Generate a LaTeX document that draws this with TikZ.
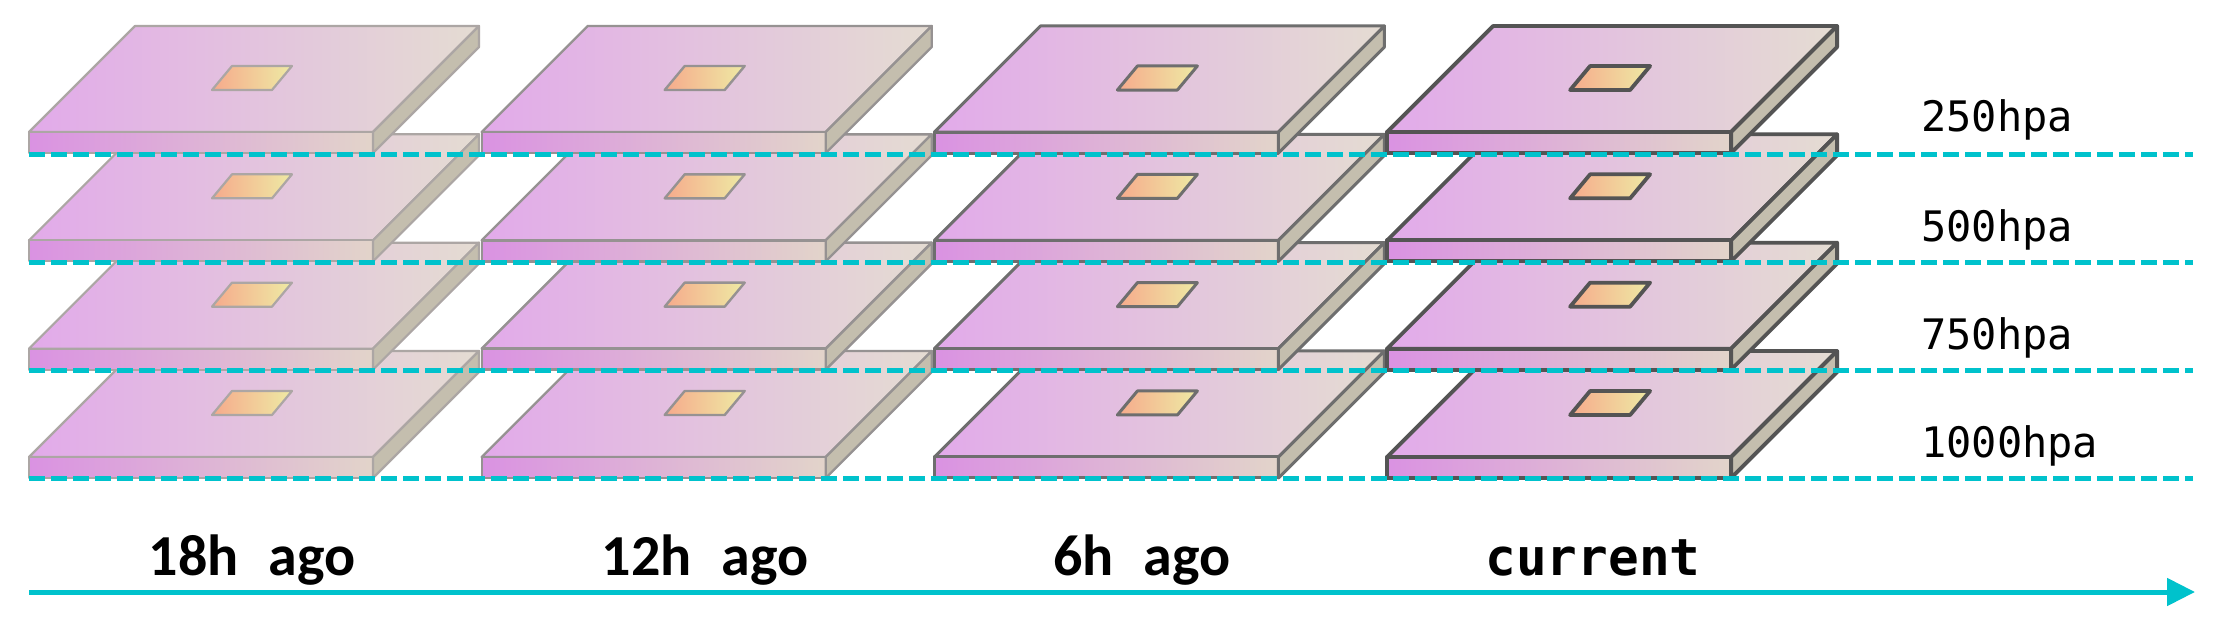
\documentclass[tikz,border=0pt]{standalone}
\usepackage{fontspec}
\newfontfamily\monofont{DejaVu Sans Mono}
\newfontfamily\calfont{Carlito}
\usetikzlibrary{arrows.meta}
\definecolor{cyanline}{RGB}{0,194,204}
\definecolor{pinkL}{RGB}{226,170,234}
\definecolor{beigeR}{RGB}{228,220,210}
\definecolor{frontL}{RGB}{218,146,226}
\definecolor{frontR}{RGB}{226,212,202}
\definecolor{sideC}{RGB}{196,190,174}
\definecolor{rhL}{RGB}{246,170,140}
\definecolor{rhR}{RGB}{238,234,164}
\definecolor{edgeA}{RGB}{172,166,164}
\definecolor{edgeB}{RGB}{150,146,146}
\definecolor{edgeC}{RGB}{110,110,110}
\definecolor{edgeD}{RGB}{84,84,84}
\tikzset{
  edge0/.style={draw=edgeA, line width=2.2pt},
  edge1/.style={draw=edgeB, line width=2.4pt},
  edge2/.style={draw=edgeC, line width=3pt},
  edge3/.style={draw=edgeD, line width=3.8pt},
  levline/.style={cyanline, line width=5pt, dash pattern=on 16pt off 6pt},
  hpalabel/.style={anchor=base west, inner sep=0pt, font=\monofont\fontsize{42}{48}\selectfont},
  timelabel/.style={anchor=base, inner sep=0pt, font=\calfont\bfseries\fontsize{58}{64}\selectfont},
  curlabel/.style={anchor=base, inner sep=0pt, font=\monofont\bfseries\fontsize{51}{58}\selectfont},
}
\newcommand\myslab[3]{%
  \begin{scope}[shift={(#1,#2)}]
    \draw[#3, left color=pinkL, right color=beigeR] (0,0) -- (344,0) -- (450,-106) -- (106,-106) -- cycle;
    \draw[#3, left color=frontL, right color=frontR] (0,0) rectangle (344,21);
    \draw[#3, fill=sideC] (344,0) -- (450,-106) -- (450,-85) -- (344,21) -- cycle;
    \draw[#3, left color=rhL, right color=rhR] (183,-42) -- (243,-42) -- (263,-66) -- (203,-66) -- cycle;
  \end{scope}}
\begin{document}
\begin{tikzpicture}[x=1pt,y=-1pt,line join=round]
\useasboundingbox (0,0) rectangle (2219,634);
\fill[white] (0,0) rectangle (2219,634);
% slabs
\foreach \i in {0,1,2,3}{
  \foreach \j in {3,2,1,0}{
    \pgfmathsetmacro\xo{29+452.7*\i}
    \pgfmathsetmacro\yt{132+108.33*\j}
    \myslab{\xo}{\yt}{edge\i}
  }
}
% level lines
\foreach \j in {0,1,2,3}{
  \pgfmathsetmacro\yd{154+108.33*\j}
  \coordinate (dL\j) at (29,\yd);
  \coordinate (dR\j) at (2193,\yd);
  \draw[levline] (dL\j) -- (dR\j);
}
% level labels
\node[hpalabel] (l250) at (1921,131) {250hpa};
\node[hpalabel] (l500) at (1921,241) {500hpa};
\node[hpalabel] (l750) at (1921,349) {750hpa};
\node[hpalabel] (l1000) at (1921,457) {1000hpa};
% time labels
\node[timelabel] (t18) at (252,575) {18h\hspace{30pt}ago};
\node[timelabel] (t12) at (705,575) {12h\hspace{30pt}ago};
\node[timelabel] (t6) at (1142,575) {6h\hspace{30pt}ago};
\node[curlabel] (tcur) at (1593,575) {current};
% time arrow
\coordinate (aS) at (29,592);
\coordinate (aE) at (2195,592);
\draw[cyanline, line width=5pt, -{Triangle[length=28pt,width=27pt]}] (aS) -- (aE);
\end{tikzpicture}
\end{document}
